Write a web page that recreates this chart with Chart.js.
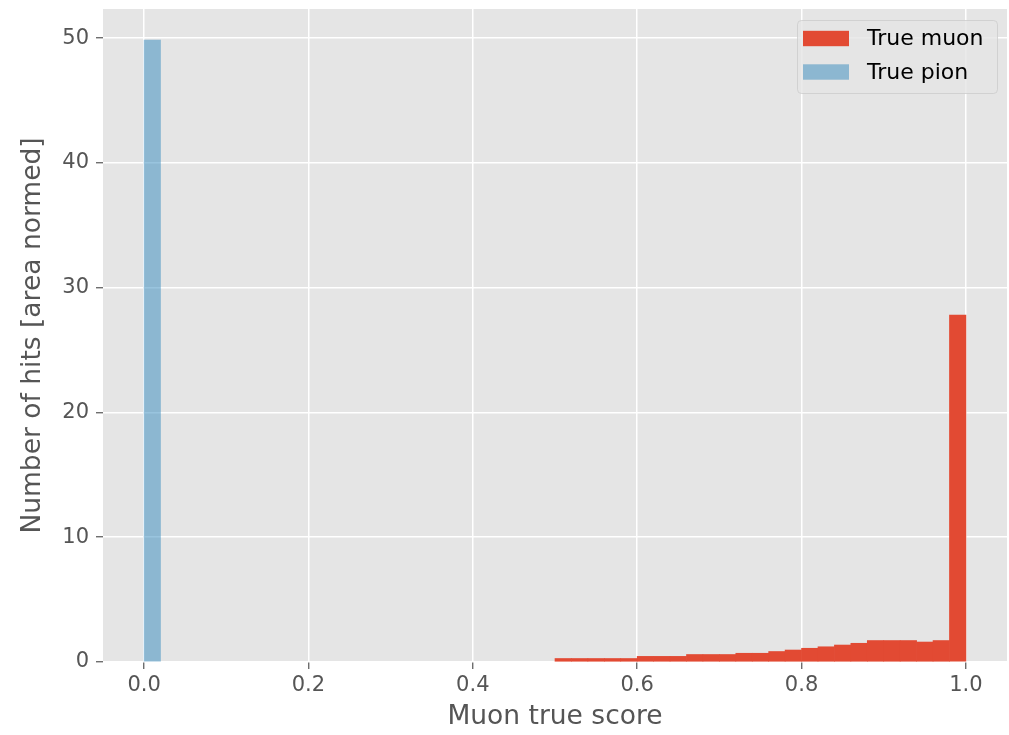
<!DOCTYPE html>
<html>
<head>
<meta charset="utf-8">
<script src="https://cdn.jsdelivr.net/npm/chart.js@4/dist/chart.umd.min.js"></script>
<style>
  html, body { margin: 0; padding: 0; background: #ffffff; }
  #wrap { width: 1009px; height: 735px; position: relative; }
</style>
</head>
<body>
<div id="wrap"><canvas id="c"></canvas></div>
<script>
// ---- data ----
const binWidth = 0.02;
const muonBinStarts = [0.50, 0.52, 0.54, 0.56, 0.58, 0.60, 0.62, 0.64, 0.66, 0.68,
                       0.70, 0.72, 0.74, 0.76, 0.78, 0.80, 0.82, 0.84, 0.86, 0.88,
                       0.90, 0.92, 0.94, 0.96, 0.98];
const muonValues = [0.28, 0.28, 0.28, 0.28, 0.28, 0.45, 0.45, 0.45, 0.60, 0.60,
                    0.60, 0.70, 0.70, 0.84, 0.96, 1.10, 1.22, 1.36, 1.50, 1.72,
                    1.72, 1.72, 1.60, 1.72, 27.8];
const pionBinStarts = [0.00];
const pionValues = [49.84];
const xTicks = [0.0, 0.2, 0.4, 0.6, 0.8, 1.0];
const yTicks = [0, 10, 20, 30, 40, 50];
const seriesNames = ['True muon', 'True pion'];
const xTitle = 'Muon true score';
const yTitle = 'Number of hits [area normed]';

const FONT = "'DejaVu Sans', sans-serif";

function toPoints(starts, vals) {
  return starts.map((s, i) => ({ x: s + binWidth / 2, y: vals[i] }));
}

const bgPlugin = {
  id: 'plotBg',
  beforeDraw(chart) {
    const { ctx, chartArea: a } = chart;
    ctx.save();
    ctx.fillStyle = '#E5E5E5';
    ctx.fillRect(a.left, a.top, a.right - a.left, a.bottom - a.top);
    ctx.restore();
  }
};

const legendPlugin = {
  id: 'mplLegend',
  afterDraw(chart) {
    const { ctx, chartArea: a } = chart;
    const w = 200, h = 73;
    const x0 = a.right - 10 - w, y0 = a.top + 11;
    ctx.save();
    ctx.beginPath();
    if (ctx.roundRect) ctx.roundRect(x0 + 0.5, y0 + 0.5, w, h, 4); else ctx.rect(x0 + 0.5, y0 + 0.5, w, h);
    ctx.fillStyle = 'rgba(229,229,229,0.8)';
    ctx.fill();
    ctx.strokeStyle = 'rgba(204,204,204,0.8)';
    ctx.lineWidth = 1;
    ctx.stroke();
    ctx.font = '22px ' + FONT;
    ctx.textBaseline = 'middle';
    ctx.textAlign = 'left';
    chart.data.datasets.forEach((ds, i) => {
      const cy = y0 + 18.5 + i * 33.5;
      ctx.fillStyle = ds.backgroundColor;
      ctx.fillRect(x0 + 6, cy - 7.7, 46, 15.4);
      ctx.fillStyle = '#000000';
      ctx.fillText(ds.label, x0 + 70, cy + 1);
    });
    ctx.restore();
  }
};

new Chart(document.getElementById('c'), {
  type: 'bar',
  data: {
    datasets: [
      {
        label: seriesNames[0],
        data: toPoints(muonBinStarts, muonValues),
        backgroundColor: '#E24A33',
        borderWidth: 0,
        barPercentage: 1.0,
        categoryPercentage: 1.0,
        grouped: false,
        order: 2
      },
      {
        label: seriesNames[1],
        data: toPoints(pionBinStarts, pionValues),
        backgroundColor: 'rgba(52,138,189,0.5)',
        borderWidth: 0,
        barPercentage: 1.0,
        categoryPercentage: 1.0,
        grouped: false,
        order: 1
      }
    ]
  },
  options: {
    responsive: true,
    maintainAspectRatio: false,
    animation: false,
    devicePixelRatio: 1,
    layout: { padding: { top: 9, right: 2, left: 0, bottom: 0 } },
    plugins: {
      legend: { display: false },
      tooltip: { enabled: false }
    },
    scales: {
      x: {
        type: 'linear',
        min: -0.05,
        max: 1.05,
        offset: false,
        afterBuildTicks(scale) { scale.ticks = xTicks.map(v => ({ value: v })); },
        afterFit(scale) {
          scale.height = 73;
          scale.paddingLeft = 0; scale.paddingRight = 0;
          scale.paddingTop = 0; scale.paddingBottom = 0;
        },
        ticks: {
          color: '#555555',
          font: { family: FONT, size: 21 },
          padding: 4,
          maxRotation: 0,
          autoSkip: false,
          callback: v => Number(v).toFixed(1)
        },
        grid: {
          offset: false,
          color: '#FFFFFF',
          lineWidth: 1.5,
          tickColor: '#555555',
          tickLength: 7,
          tickWidth: 1.2,
          drawTicks: true
        },
        border: { display: false },
        title: {
          display: true,
          text: xTitle,
          color: '#555555',
          font: { family: FONT, size: 26.5 },
          padding: { top: 0, bottom: 2 }
        }
      },
      y: {
        type: 'linear',
        min: 0,
        max: 52.33,
        afterBuildTicks(scale) { scale.ticks = yTicks.map(v => ({ value: v })); },
        afterFit(scale) {
          scale.width = 103;
          scale.paddingLeft = 0; scale.paddingRight = 0;
          scale.paddingTop = 0; scale.paddingBottom = 0;
        },
        ticks: {
          color: '#555555',
          font: { family: FONT, size: 21 },
          padding: 7,
          autoSkip: false,
          callback: v => String(v)
        },
        grid: {
          color: '#FFFFFF',
          lineWidth: 1.5,
          tickColor: '#555555',
          tickLength: 7,
          tickWidth: 1.2,
          drawTicks: true
        },
        border: { display: false },
        title: {
          display: true,
          text: yTitle,
          color: '#555555',
          font: { family: FONT, size: 26.5 },
          padding: { top: 17, bottom: 0 }
        }
      }
    }
  },
  plugins: [bgPlugin, legendPlugin]
});
</script>
</body>
</html>
